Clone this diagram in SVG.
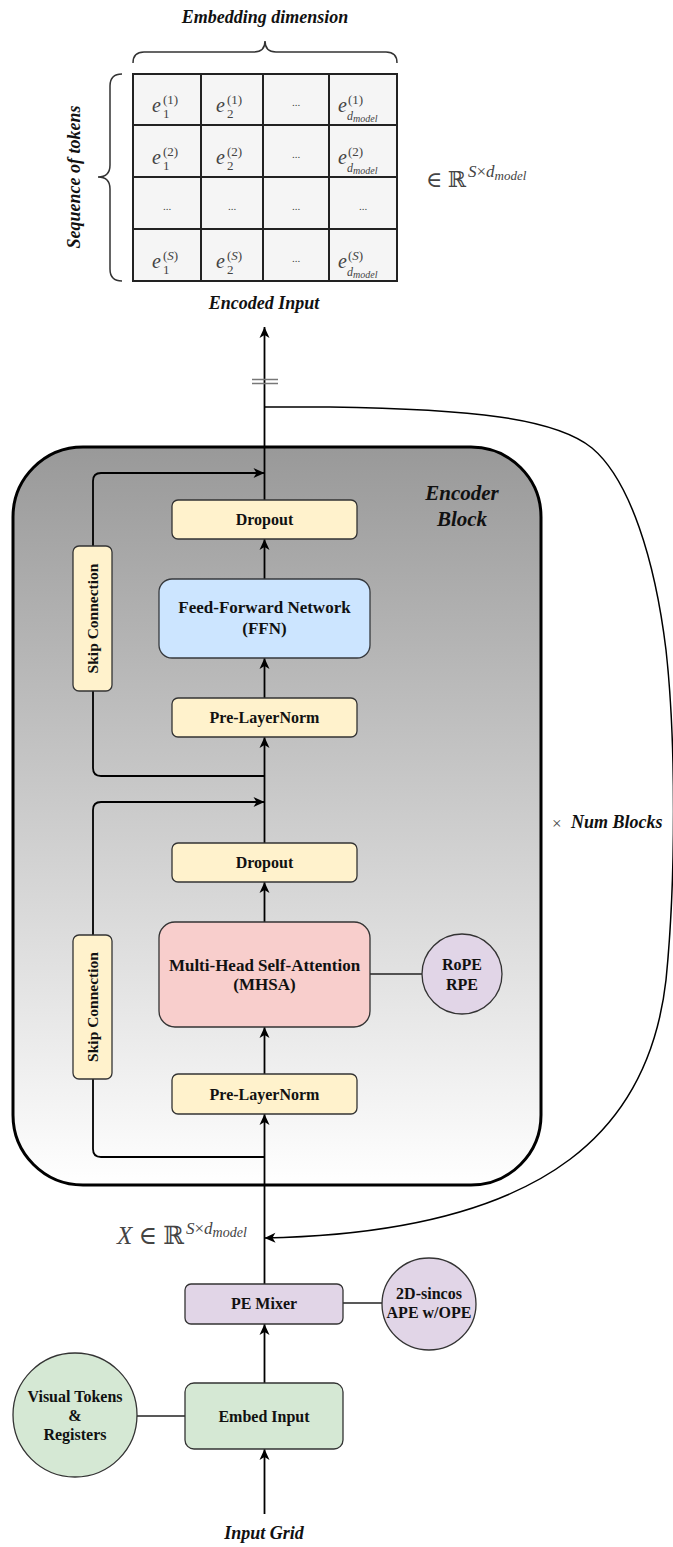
<svg xmlns="http://www.w3.org/2000/svg" width="673" height="1547" viewBox="0 0 673 1547">
  <defs>
    <linearGradient id="blockFill" x1="0" y1="0" x2="0" y2="1">
      <stop offset="0" stop-color="#999999"/>
      <stop offset="1" stop-color="#ffffff"/>
    </linearGradient>
    <marker id="arrow" viewBox="-12 -6 13 12" markerWidth="13" markerHeight="12" refX="0" refY="0" orient="auto" markerUnits="userSpaceOnUse">
      <path d="M0,0 L-11,-5 L-8,0 L-11,5 Z" fill="#000"/>
    </marker>
    <style>
      .lbl { font-family: "Liberation Serif", "Times New Roman", serif; font-weight: bold; fill: #111; text-anchor: middle; }
      .cap { font-family: "Liberation Serif", "Times New Roman", serif; font-weight: bold; font-style: italic; fill: #111; }
      .math { font-family: "Liberation Serif", "DejaVu Serif", serif; fill: #444; }
      .it { font-style: italic; }
      .cell { fill: #f5f5f5; stroke: #222; stroke-width: 2; }
      .yel { fill: #fff2cc; stroke: #333; stroke-width: 1.3; }
      .blue { fill: #cce5ff; stroke: #36393d; stroke-width: 1.3; }
      .red { fill: #f8cecc; stroke: #333; stroke-width: 1.3; }
      .pur { fill: #e1d5e7; stroke: #333; stroke-width: 1.3; }
      .grn { fill: #d5e8d4; stroke: #333; stroke-width: 1.3; }
      .flow { fill: none; stroke: #000; stroke-width: 1.8; }
      .flowA { fill: none; stroke: #000; stroke-width: 1.8; marker-end: url(#arrow); }
      .link { fill: none; stroke: #222; stroke-width: 1.3; }
      .brace { fill: none; stroke: #333; stroke-width: 1.5; }
    </style>
  </defs>

  <!-- Encoded output matrix -->
  <g id="encoded-matrix">
    <text class="cap" x="265" y="23" font-size="18" text-anchor="middle">Embedding dimension</text>
    <path class="brace" d="M133,63 Q133,52 144,52 L254,52 Q265,52 265,41 Q265,52 276,52 L386,52 Q397,52 397,63"/>
    <path class="brace" d="M122,74 Q110,74 110,86 L110,165 Q110,177 98,177 Q110,177 110,189 L110,269 Q110,281 122,281"/>
    <text class="cap" font-size="18" text-anchor="middle" transform="translate(80,177) rotate(-90)">Sequence of tokens</text>

    <rect class="cell" x="133" y="74" width="68" height="51"/>
    <rect class="cell" x="201" y="74" width="62" height="51"/>
    <rect class="cell" x="263" y="74" width="66" height="51"/>
    <rect class="cell" x="329" y="74" width="68" height="51"/>
    <rect class="cell" x="133" y="125" width="68" height="52"/>
    <rect class="cell" x="201" y="125" width="62" height="52"/>
    <rect class="cell" x="263" y="125" width="66" height="52"/>
    <rect class="cell" x="329" y="125" width="68" height="52"/>
    <rect class="cell" x="133" y="177" width="68" height="52"/>
    <rect class="cell" x="201" y="177" width="62" height="52"/>
    <rect class="cell" x="263" y="177" width="66" height="52"/>
    <rect class="cell" x="329" y="177" width="68" height="52"/>
    <rect class="cell" x="133" y="229" width="68" height="52"/>
    <rect class="cell" x="201" y="229" width="62" height="52"/>
    <rect class="cell" x="263" y="229" width="66" height="52"/>
    <rect class="cell" x="329" y="229" width="68" height="52"/>

    <!-- row 1 -->
    <text class="math it" x="152" y="112" font-size="20">e</text>
    <text class="math" x="163" y="104" font-size="13">(1)</text>
    <text class="math" x="163" y="118" font-size="13">1</text>
    <text class="math it" x="216" y="112" font-size="20">e</text>
    <text class="math" x="227" y="104" font-size="13">(1)</text>
    <text class="math" x="227" y="118" font-size="13">2</text>
    <text class="math" x="296" y="106" font-size="11" text-anchor="middle">...</text>
    <text class="math it" x="338" y="112" font-size="20">e</text>
    <text class="math" x="348" y="104" font-size="13">(1)</text>
    <text class="math it" x="347" y="120" font-size="12">d<tspan font-size="10" dy="2">model</tspan></text>
    <!-- row 2 -->
    <text class="math it" x="152" y="163.5" font-size="20">e</text>
    <text class="math" x="163" y="155.5" font-size="13">(2)</text>
    <text class="math" x="163" y="169.5" font-size="13">1</text>
    <text class="math it" x="216" y="163.5" font-size="20">e</text>
    <text class="math" x="227" y="155.5" font-size="13">(2)</text>
    <text class="math" x="227" y="169.5" font-size="13">2</text>
    <text class="math" x="296" y="158" font-size="11" text-anchor="middle">...</text>
    <text class="math it" x="338" y="163.5" font-size="20">e</text>
    <text class="math" x="348" y="155.5" font-size="13">(2)</text>
    <text class="math it" x="347" y="171.5" font-size="12">d<tspan font-size="10" dy="2">model</tspan></text>
    <!-- row 3 -->
    <text class="math" x="167" y="210" font-size="11" text-anchor="middle">...</text>
    <text class="math" x="232" y="210" font-size="11" text-anchor="middle">...</text>
    <text class="math" x="296" y="210" font-size="11" text-anchor="middle">...</text>
    <text class="math" x="363" y="210" font-size="11" text-anchor="middle">...</text>
    <!-- row 4 -->
    <text class="math it" x="152" y="268" font-size="20">e</text>
    <text class="math" x="163" y="260" font-size="13">(<tspan class="it">S</tspan>)</text>
    <text class="math" x="163" y="274" font-size="13">1</text>
    <text class="math it" x="216" y="268" font-size="20">e</text>
    <text class="math" x="227" y="260" font-size="13">(<tspan class="it">S</tspan>)</text>
    <text class="math" x="227" y="274" font-size="13">2</text>
    <text class="math" x="296" y="262" font-size="11" text-anchor="middle">...</text>
    <text class="math it" x="338" y="268" font-size="20">e</text>
    <text class="math" x="348" y="260" font-size="13">(<tspan class="it">S</tspan>)</text>
    <text class="math it" x="347" y="276" font-size="12">d<tspan font-size="10" dy="2">model</tspan></text>

    <text class="math" x="426" y="187" font-size="22">∈ ℝ</text>
    <text class="math it" x="468" y="177" font-size="17">S<tspan font-style="normal">×</tspan>d<tspan font-size="13" dy="3">model</tspan></text>

    <text class="cap" x="264" y="309" font-size="18" text-anchor="middle">Encoded Input</text>
  </g>

  <!-- Encoder block container -->
  <g id="encoder-block">
    <rect x="13" y="447" width="528" height="738" rx="70" ry="70" fill="url(#blockFill)" stroke="#000" stroke-width="3"/>
    <text class="cap" x="462" y="500" font-size="21" text-anchor="middle">Encoder</text>
    <text class="cap" x="462" y="526" font-size="21" text-anchor="middle">Block</text>
  </g>

  <!-- Connectors -->
  <g id="connectors">
    <path class="flowA" d="M264.5,1514 L264.5,1449"/>
    <path class="flowA" d="M264.5,1383 L264.5,1324"/>
    <path class="flowA" d="M264.5,1284 L264.5,1114"/>
    <path class="flowA" d="M264.5,1074 L264.5,1027"/>
    <path class="flowA" d="M264.5,922 L264.5,882"/>
    <path class="flowA" d="M264.5,843 L264.5,737"/>
    <path class="flowA" d="M264.5,698 L264.5,658"/>
    <path class="flowA" d="M264.5,579 L264.5,539"/>
    <path class="flowA" d="M264.5,500 L264.5,327"/>
    <!-- skip around attention -->
    <path class="flow" d="M264.5,1157 L101,1157 Q93,1157 93,1149 L93,1079"/>
    <path class="flowA" d="M93,935 L93,810 Q93,802 101,802 L264.5,802"/>
    <!-- skip around feed-forward -->
    <path class="flow" d="M264.5,776 L101,776 Q93,776 93,768 L93,691"/>
    <path class="flowA" d="M93,546 L93,481 Q93,473 101,473 L264.5,473"/>
    <!-- repeat loop -->
    <path d="M264.5,407 L330,407 C470,409 555,418 592,448 C630,480 655,560 666,650 C676,740 676,880 666,980 C650,1120 560,1232 264.5,1238" fill="none" stroke="#000" stroke-width="1.5" marker-end="url(#arrow)"/>
    <!-- side links -->
    <path class="link" d="M370,974 L422,974"/>
    <path class="link" d="M343,1303 L382,1303"/>
    <path class="link" d="M137,1416 L185,1416"/>
    <!-- equals mark on output line -->
    <path d="M252,379.5 L278,379.5 M252,383.5 L278,383.5" stroke="#777" stroke-width="1.3"/>
  </g>

  <g id="dropout-ffn">
    <rect class="yel" x="172" y="500" width="185" height="39" rx="6"/>
    <text class="lbl" x="264.5" y="525" font-size="16">Dropout</text>
  </g>
  <g id="ffn">
    <rect class="blue" x="159" y="579" width="211" height="79" rx="13"/>
    <text class="lbl" x="264.5" y="613" font-size="17">Feed-Forward Network</text>
    <text class="lbl" x="264.5" y="634" font-size="17">(FFN)</text>
  </g>
  <g id="prenorm-ffn">
    <rect class="yel" x="172" y="698" width="185" height="39" rx="6"/>
    <text class="lbl" x="264.5" y="723" font-size="16">Pre-LayerNorm</text>
  </g>
  <g id="skip-ffn">
    <rect class="yel" x="73" y="546" width="39" height="145" rx="6"/>
    <text class="lbl" font-size="15.5" transform="translate(98,618.5) rotate(-90)">Skip Connection</text>
  </g>
  <g id="dropout-attn">
    <rect class="yel" x="172" y="843" width="185" height="39" rx="6"/>
    <text class="lbl" x="264.5" y="868" font-size="16">Dropout</text>
  </g>
  <g id="mhsa">
    <rect class="red" x="159" y="922" width="211" height="105" rx="16"/>
    <text class="lbl" x="264.5" y="971" font-size="17">Multi-Head Self-Attention</text>
    <text class="lbl" x="264.5" y="990" font-size="17">(MHSA)</text>
  </g>
  <g id="rope">
    <ellipse class="pur" cx="462" cy="974" rx="40" ry="40"/>
    <text class="lbl" x="462" y="970" font-size="16">RoPE</text>
    <text class="lbl" x="462" y="990" font-size="16">RPE</text>
  </g>
  <g id="prenorm-attn">
    <rect class="yel" x="172" y="1074" width="185" height="40" rx="6"/>
    <text class="lbl" x="264.5" y="1100" font-size="16">Pre-LayerNorm</text>
  </g>
  <g id="skip-attn">
    <rect class="yel" x="73" y="935" width="39" height="144" rx="6"/>
    <text class="lbl" font-size="15.5" transform="translate(98,1007) rotate(-90)">Skip Connection</text>
  </g>

  <g id="num-blocks">
    <text class="math" x="552" y="829" font-size="17" fill="#222">×</text>
    <text class="cap" x="571" y="828" font-size="18">Num Blocks</text>
  </g>

  <g id="x-label">
    <text class="math" x="117" y="1244" font-size="25" fill="#333"><tspan class="it">X</tspan> ∈ ℝ</text>
    <text class="math it" x="186" y="1234" font-size="17" fill="#333">S<tspan font-style="normal">×</tspan>d<tspan font-size="14" dy="3">model</tspan></text>
  </g>

  <g id="pe-mixer">
    <rect class="pur" x="185" y="1284" width="158" height="40" rx="6"/>
    <text class="lbl" x="264" y="1309" font-size="16">PE Mixer</text>
  </g>
  <g id="ape">
    <ellipse class="pur" cx="429" cy="1304" rx="47" ry="46"/>
    <text class="lbl" x="429" y="1299" font-size="16">2D-sincos</text>
    <text class="lbl" x="429" y="1318" font-size="16">APE w/OPE</text>
  </g>
  <g id="embed-input">
    <rect class="grn" x="185" y="1383" width="158" height="66" rx="9"/>
    <text class="lbl" x="264" y="1422" font-size="16">Embed Input</text>
  </g>
  <g id="visual-tokens">
    <ellipse class="grn" cx="75" cy="1415" rx="62" ry="62"/>
    <text class="lbl" x="75" y="1402" font-size="16">Visual Tokens</text>
    <text class="lbl" x="75" y="1421" font-size="16">&amp;</text>
    <text class="lbl" x="75" y="1440" font-size="16">Registers</text>
  </g>

  <g id="input-grid">
    <text class="cap" x="264" y="1539" font-size="18" text-anchor="middle">Input Grid</text>
  </g>
</svg>
